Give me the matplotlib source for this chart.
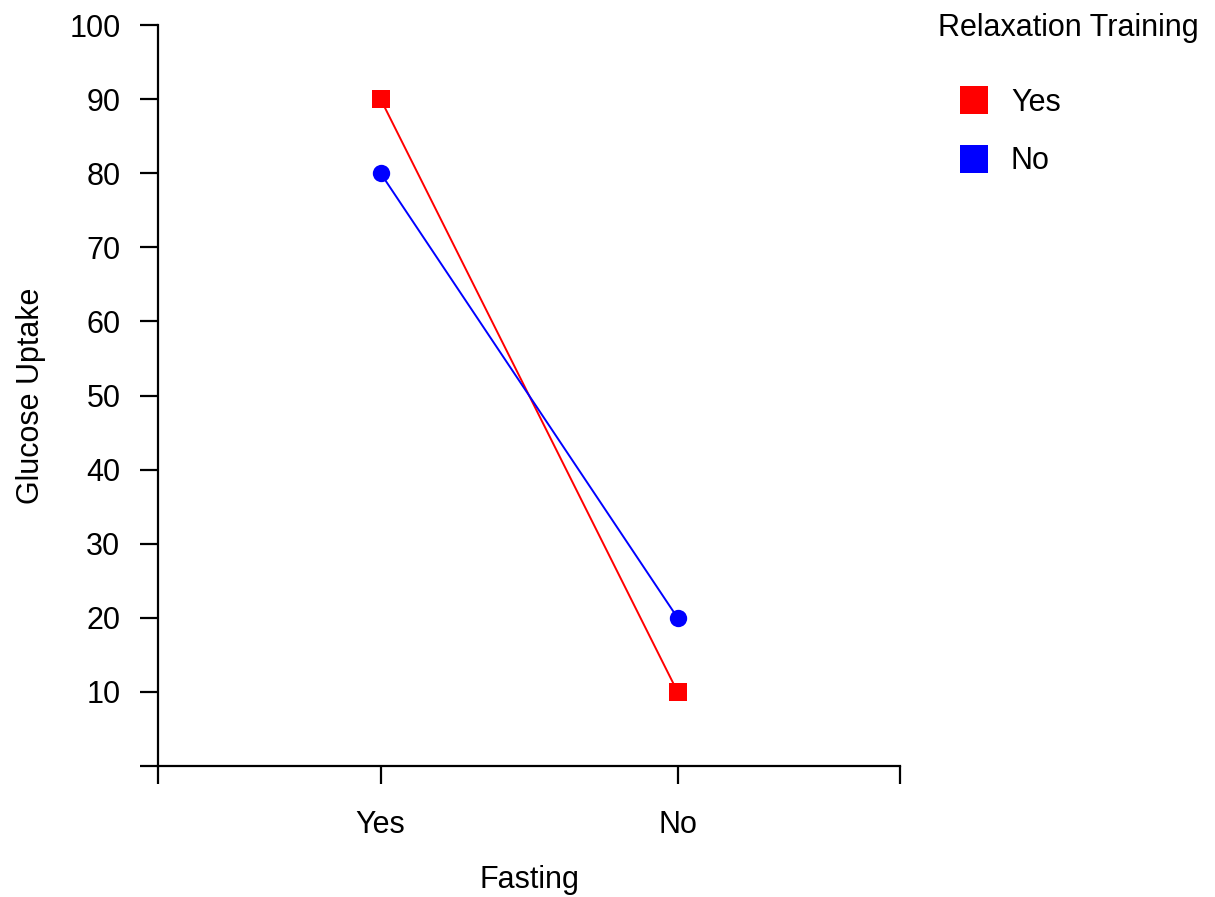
import matplotlib
matplotlib.use("Agg")
import matplotlib.pyplot as plt
from matplotlib.lines import Line2D

plt.rcParams["font.family"] = ["Liberation Sans", "DejaVu Sans"]

fasting = ["Yes", "No"]
training = ["Yes", "No"]
uptake_yes = [90, 10]
uptake_no = [80, 20]
colors = ["#ff0000", "#0000ff"]
markers = ["s", "o"]
y_ticks = [0, 10, 20, 30, 40, 50, 60, 70, 80, 90, 100]
y_labels = ["", "10", "20", "30", "40", "50", "60", "70", "80", "90", "100"]

fig = plt.figure(figsize=(12.15, 8.97), dpi=100)
ax = fig.add_axes([0.130, 0.146, 0.611, 0.826])

xs = [1, 2]
for vals, col, mk in zip([uptake_yes, uptake_no], colors, markers):
    ax.plot(xs, vals, color=col, linewidth=1.4, marker=mk, markersize=12.5,
            markeredgewidth=0, clip_on=False)

ax.set_xlim(0.25, 2.75)
ax.set_ylim(0, 100)
ax.set_xticks([0.25, 1, 2, 2.75])
ax.set_xticklabels(["", fasting[0], fasting[1], ""])
ax.set_yticks(y_ticks)
ax.set_yticklabels(y_labels)
for side in ["top", "right"]:
    ax.spines[side].set_visible(False)
for side in ["left", "bottom"]:
    ax.spines[side].set_linewidth(1.6)
ax.tick_params(axis="both", length=13, width=1.6, labelsize=22)
ax.tick_params(axis="y", pad=14)
ax.tick_params(axis="x", pad=19)
ax.set_xlabel("Fasting", fontsize=22, labelpad=18)
ax.set_ylabel("Glucose Uptake", fontsize=22, labelpad=17)

# legend title drawn separately so the gap to the entries can match
fig.text(938 / 1215, 1 - 28 / 897, "Relaxation Training", fontsize=22,
         ha="left", va="center")
handles = [Line2D([], [], linestyle="none", marker="s", markersize=20,
                  color=c, markeredgewidth=0) for c in colors]
leg = fig.legend(handles, training, loc="upper left",
                 bbox_to_anchor=(959 / 1215, 0.9017),
                 frameon=False, fontsize=22, handlelength=1.0,
                 labelspacing=0.92, handletextpad=0.7,
                 borderpad=0, borderaxespad=0)

fig.savefig("out.png", dpi=100)
